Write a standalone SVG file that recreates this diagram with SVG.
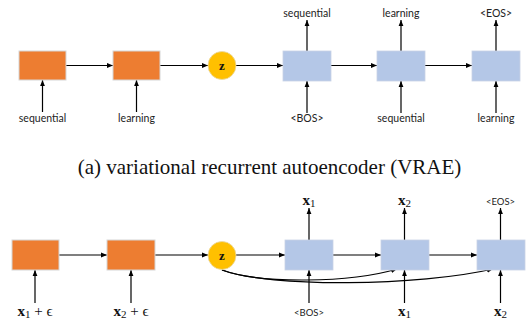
<svg xmlns="http://www.w3.org/2000/svg" width="531" height="322" viewBox="0 0 531 322">
<defs>
<marker id="ah" viewBox="0 0 10 10" refX="10" refY="5" markerWidth="6" markerHeight="6" markerUnits="userSpaceOnUse" orient="auto">
<path d="M0,1 L10,5 L0,9 Z" fill="#000"/>
</marker>
</defs>
<style>
.enc{fill:#ED7D31;stroke:#D6D6D6;stroke-width:1}
.dec{fill:#B4C7E7;stroke:#C8D3E6;stroke-width:0.8}
.z{fill:#FFC000;stroke:#E8D9A8;stroke-width:0.8}
.ar{stroke:#000;stroke-width:1.2;fill:none;marker-end:url(#ah)}
.w{font-family:Lato,"Liberation Sans",sans-serif;font-size:10.5px;fill:#222;text-anchor:middle}
.m{font-family:"Liberation Serif","DejaVu Serif",serif;font-size:15px;fill:#111;text-anchor:middle}
.zt{font-family:"Liberation Serif",serif;font-size:13px;font-weight:bold;fill:#111;text-anchor:middle}
.cap{font-family:"Liberation Serif","Times New Roman",serif;font-size:21px;fill:#111;text-anchor:middle}
</style>
<g id="connectors">
<line class="ar" x1="66" y1="65.5" x2="113" y2="65.5"/>
<line class="ar" x1="160" y1="65.5" x2="208" y2="65.5"/>
<line class="ar" x1="236" y1="65.5" x2="283" y2="65.5"/>
<line class="ar" x1="331" y1="65.5" x2="377" y2="65.5"/>
<line class="ar" x1="425" y1="65.5" x2="472" y2="65.5"/>
<line class="ar" x1="42.5" y1="112" x2="42.5" y2="80"/>
<line class="ar" x1="136.5" y1="112" x2="136.5" y2="80"/>
<line class="ar" x1="307" y1="113" x2="307" y2="81"/>
<line class="ar" x1="401" y1="113" x2="401" y2="81"/>
<line class="ar" x1="496" y1="113" x2="496" y2="81"/>
<line class="ar" x1="307" y1="51" x2="307" y2="20"/>
<line class="ar" x1="401" y1="51" x2="401" y2="20"/>
<line class="ar" x1="496" y1="51" x2="496" y2="20"/>
<line class="ar" x1="59" y1="255" x2="107" y2="255"/>
<line class="ar" x1="155" y1="255" x2="208" y2="255"/>
<line class="ar" x1="236" y1="255" x2="285" y2="255"/>
<line class="ar" x1="333" y1="255" x2="381" y2="255"/>
<line class="ar" x1="429" y1="255" x2="477" y2="255"/>
<line class="ar" x1="35" y1="303" x2="35" y2="270"/>
<line class="ar" x1="131" y1="303" x2="131" y2="270"/>
<line class="ar" x1="309" y1="303" x2="309" y2="270"/>
<line class="ar" x1="404.5" y1="303" x2="404.5" y2="270"/>
<line class="ar" x1="500.5" y1="303" x2="500.5" y2="270"/>
<line class="ar" x1="309" y1="240" x2="309" y2="208"/>
<line class="ar" x1="404.5" y1="240" x2="404.5" y2="208"/>
<line class="ar" x1="500.5" y1="240" x2="500.5" y2="208"/>
<path class="ar" d="M222,270 C260,284 350,283 397,269"/>
<path class="ar" d="M222,270 C270,288 420,286 493,269"/>
</g>
<g id="top-enc1"><rect class="enc" x="19" y="51" width="47" height="29"/></g>
<g id="top-enc2"><rect class="enc" x="113" y="51" width="47" height="29"/></g>
<g id="top-z"><circle class="z" cx="222" cy="65.5" r="14"/><text class="zt" x="222" y="70">z</text></g>
<g id="top-dec1"><rect class="dec" x="283" y="51" width="48" height="30"/></g>
<g id="top-dec2"><rect class="dec" x="377" y="51" width="48" height="30"/></g>
<g id="top-dec3"><rect class="dec" x="472" y="51" width="48" height="30"/></g>
<g id="top-labels">
<text class="w" x="42.5" y="122">sequential</text>
<text class="w" x="136.5" y="122">learning</text>
<text class="w" x="307" y="122">&lt;BOS&gt;</text>
<text class="w" x="401" y="122">sequential</text>
<text class="w" x="496" y="122">learning</text>
<text class="w" x="307" y="17">sequential</text>
<text class="w" x="401" y="17">learning</text>
<text class="w" x="496" y="17">&lt;EOS&gt;</text>
</g>
<text class="cap" x="269.5" y="174">(a) variational recurrent autoencoder (VRAE)</text>
<g id="bot-enc1"><rect class="enc" x="12" y="240" width="47" height="30"/></g>
<g id="bot-enc2"><rect class="enc" x="107" y="240" width="48" height="30"/></g>
<g id="bot-z"><circle class="z" cx="222" cy="255.5" r="14"/><text class="zt" x="222" y="260">z</text></g>
<g id="bot-dec1"><rect class="dec" x="285" y="240" width="48" height="30"/></g>
<g id="bot-dec2"><rect class="dec" x="381" y="240" width="48" height="30"/></g>
<g id="bot-dec3"><rect class="dec" x="477" y="240" width="48" height="30"/></g>
<g id="bot-labels">
<text class="m" x="35" y="316"><tspan font-weight="bold">x</tspan><tspan font-size="11" dy="2">1</tspan><tspan dy="-2"> + ϵ</tspan></text>
<text class="m" x="131" y="316"><tspan font-weight="bold">x</tspan><tspan font-size="11" dy="2">2</tspan><tspan dy="-2"> + ϵ</tspan></text>
<text class="w" x="309" y="316" style="font-size:9.5px">&lt;BOS&gt;</text>
<text class="m" x="404.5" y="316"><tspan font-weight="bold">x</tspan><tspan font-size="11" dy="2">1</tspan></text>
<text class="m" x="500.5" y="316"><tspan font-weight="bold">x</tspan><tspan font-size="11" dy="2">2</tspan></text>
<text class="m" x="309" y="205"><tspan font-weight="bold">x</tspan><tspan font-size="11" dy="2">1</tspan></text>
<text class="m" x="404.5" y="205"><tspan font-weight="bold">x</tspan><tspan font-size="11" dy="2">2</tspan></text>
<text class="w" x="500.5" y="205" style="font-size:9.5px">&lt;EOS&gt;</text>
</g>
</svg>
